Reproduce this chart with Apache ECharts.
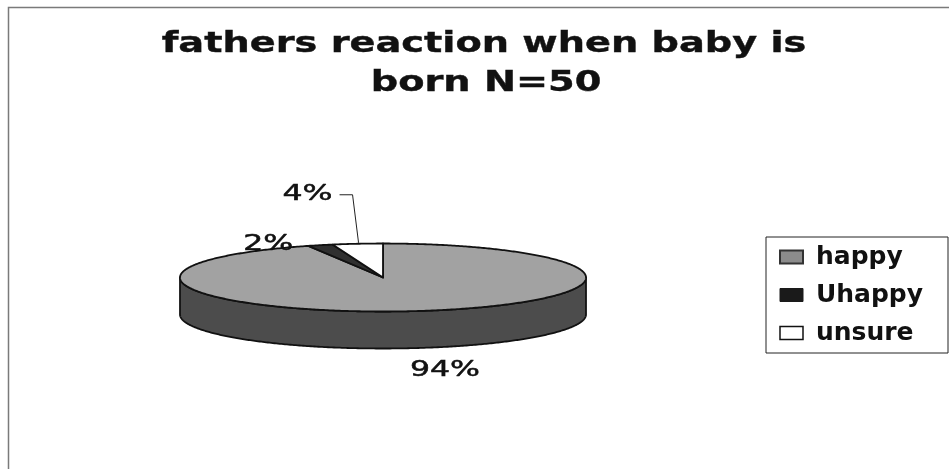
<!DOCTYPE html>
<html><head><meta charset="utf-8">
<script src="https://cdn.jsdelivr.net/npm/echarts@6/dist/echarts.min.js"></script>
<style>html,body{margin:0;padding:0;background:#fff}#c{width:949px;height:469px}</style>
</head><body><div id="c"></div>
<script>
// ---- data ----
const categories = ['happy', 'Uhappy', 'unsure'];
const counts = [47, 1, 2];
const percentLabels = ['94%', '2%', '4%'];
const titleLines = ['fathers reaction when baby is', 'born N=50'];

// ---- styles / layout ----
const topColors = ['#a2a2a2', '#303030', '#ffffff'];
const sideColors = ['#4c4c4c', '#1e1e1e', '#bdbdbd'];
const geo = { cx: 383, cy: 277.5, rx: 203, ry: 34, depth: 37 };
const labelOffsets = [[24, 23, 'side'], [-52, -1, 'top'], [-50, -49, 'top']];
const leaderFor = [false, false, true];

const total = counts.reduce((a, b) => a + b, 0);
const fracs = [];
let acc = 0;
counts.forEach(v => { fracs.push([acc / total, (acc + v) / total]); acc += v; });

function pt(phi, dy) {
  return [geo.cx + geo.rx * Math.sin(phi), geo.cy - geo.ry * Math.cos(phi) + (dy || 0)];
}
function arc(a, b, dy) {
  const n = Math.max(2, Math.ceil((b - a) / 0.01));
  const out = [];
  for (let i = 0; i <= n; i++) out.push(pt(a + (b - a) * i / n, dy));
  return out;
}
const stroke = '#111';

function renderSide(idx) {
  return function (params, api) {
    const a = api.value(0) * 2 * Math.PI, b = api.value(1) * 2 * Math.PI;
    const lo = Math.max(a, Math.PI / 2), hi = Math.min(b, 3 * Math.PI / 2);
    if (lo >= hi) return null;
    const pts = arc(lo, hi, 0).concat(arc(lo, hi, geo.depth).reverse());
    return { type: 'polygon', shape: { points: pts },
      style: { fill: sideColors[idx], stroke: stroke, lineWidth: 1.8, lineJoin: 'round' } };
  };
}
function renderTop(idx) {
  return function (params, api) {
    const a = api.value(0) * 2 * Math.PI, b = api.value(1) * 2 * Math.PI;
    const pts = [[geo.cx, geo.cy]].concat(arc(a, b, 0));
    const mid = (a + b) / 2;
    const off = labelOffsets[idx];
    const anchor = pt(mid, off[2] === 'side' ? geo.depth : 0);
    const lx = anchor[0] + off[0], ly = anchor[1] + off[1];
    const children = [
      { type: 'polygon', shape: { points: pts },
        style: { fill: topColors[idx], stroke: stroke, lineWidth: 1.8, lineJoin: 'round' } },
      { type: 'text', x: lx, y: ly, scaleX: 1.5,
        style: { text: percentLabels[idx], fill: '#111', stroke: '#111', lineWidth: 0.5,
          fontSize: 21, fontFamily: 'DejaVu Sans', align: 'center', verticalAlign: 'middle' } }
    ];
    if (leaderFor[idx]) {
      children.push({ type: 'polyline',
        shape: { points: [[lx + 32, ly], [anchor[0] - 5, ly], [anchor[0] + 1, anchor[1] - 1]] },
        style: { stroke: '#222', lineWidth: 1, fill: null } });
    }
    return { type: 'group', children: children };
  };
}

const series = [];
categories.forEach((name, i) => {
  series.push({ type: 'custom', name: name + '_side', coordinateSystem: 'none', z: 1,
    silent: true, renderItem: renderSide(i), data: [fracs[i]] });
});
categories.forEach((name, i) => {
  series.push({ type: 'custom', name: name, coordinateSystem: 'none', z: 2,
    renderItem: renderTop(i), data: [fracs[i]], itemStyle: { color: topColors[i] } });
});

const legendIconStyles = [
  { color: '#8c8c8c', borderColor: '#333', borderWidth: 2 },
  { color: '#1a1a1a', borderColor: '#1a1a1a', borderWidth: 1 },
  { color: '#ffffff', borderColor: '#111', borderWidth: 1.5 }
];

const titleStyle = { fill: '#111', stroke: '#111', lineWidth: 0.4, fontSize: 29, fontWeight: 'bold',
  fontFamily: 'DejaVu Sans', align: 'center', verticalAlign: 'middle' };

const chart = echarts.init(document.getElementById('c'));
chart.setOption({
  animation: false,
  backgroundColor: '#fff',
  graphic: [
    { type: 'polyline', shape: { points: [[8.5, 469], [8.5, 7.5], [949, 7.5]] },
      style: { stroke: '#7a7a7a', lineWidth: 1.5, fill: null } },
    { type: 'text', x: 484, y: 44, scaleX: 1.32,
      style: Object.assign({ text: titleLines[0] }, titleStyle) },
    { type: 'text', x: 486, y: 83, scaleX: 1.32,
      style: Object.assign({ text: titleLines[1] }, titleStyle) }
  ],
  legend: {
    orient: 'vertical', left: 766, top: 237,
    data: categories.map((n, i) => ({ name: n, icon: 'rect', itemStyle: legendIconStyles[i] })),
    itemWidth: 23, itemHeight: 13, itemGap: 10,
    borderColor: '#222', borderWidth: 1, padding: [6, 11, 6, 13],
    textStyle: { fontFamily: 'DejaVu Sans', fontSize: 25, fontWeight: 'bold', color: '#111',
      lineHeight: 28, width: 121, padding: [0, 0, 0, 8] }
  },
  series: series
});
</script></body></html>
